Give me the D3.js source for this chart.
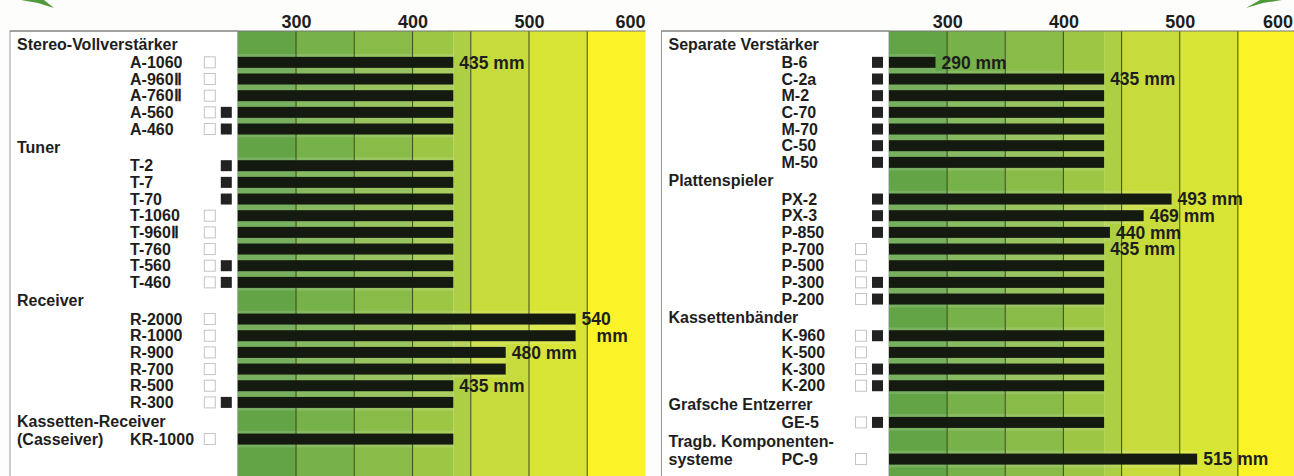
<!DOCTYPE html>
<html>
<head>
<meta charset="utf-8">
<script src="https://cdn.jsdelivr.net/npm/d3@7"></script>
<style>
  html, body { margin: 0; padding: 0; background: #fdfdfb; }
  svg { display: block; }
  text { font-family: "Liberation Sans", Arial, Helvetica, sans-serif; font-weight: bold; fill: #1e1e1e; }
</style>
</head>
<body>
<svg id="chart" width="1294" height="476"></svg>
<script>
// ---------------- DATA ----------------
const tickValues = [300, 400, 500, 600];
const gridValues = [300, 350, 400, 450, 500, 550];
const bandEdges = [250, 300, 350, 400, 435, 450, 500, 550, 600];

// Left panel
const leftGroups = ["Stereo-Vollverstärker", "Tuner", "Receiver", "Kassetten-Receiver"];
const leftGroupSub = ["", "", "", "(Casseiver)"];
const leftModels = ["A-1060", "A-960Ⅱ", "A-760Ⅱ", "A-560", "A-460",
  "T-2", "T-7", "T-70", "T-1060", "T-960Ⅱ", "T-760", "T-560", "T-460",
  "R-2000", "R-1000", "R-900", "R-700", "R-500", "R-300",
  "KR-1000"];
const leftGroupOf = [0,0,0,0,0, 1,1,1,1,1,1,1,1, 2,2,2,2,2,2, 3];
const leftDepth = [435,435,435,435,435, 435,435,435,435,435,435,435,435, 540,540,480,480,435,435, 435];
const leftSilver = [1,1,1,1,1, 0,0,0,1,1,1,1,1, 1,1,1,1,1,1, 1];
const leftBlack  = [0,0,0,1,1, 1,1,1,0,0,0,1,1, 0,0,0,0,0,1, 0];
const leftValueText = ["435 mm","","","","", "","","","","","","","", "540","mm","480 mm","","435 mm","", ""];

// Right panel
const rightGroups = ["Separate Verstärker", "Plattenspieler", "Kassettenbänder", "Grafsche Entzerrer", "Tragb. Komponenten-"];
const rightGroupSub = ["", "", "", "", "systeme"];
const rightModels = ["B-6", "C-2a", "M-2", "C-70", "M-70", "C-50", "M-50",
  "PX-2", "PX-3", "P-850", "P-700", "P-500", "P-300", "P-200",
  "K-960", "K-500", "K-300", "K-200",
  "GE-5",
  "PC-9"];
const rightGroupOf = [0,0,0,0,0,0,0, 1,1,1,1,1,1,1, 2,2,2,2, 3, 4];
const rightDepth = [290,435,435,435,435,435,435, 493,469,440,435,435,435,435, 435,435,435,435, 435, 515];
const rightSilver = [0,0,0,0,0,0,0, 0,0,0,1,1,1,1, 1,1,1,1, 1, 1];
const rightBlack  = [1,1,1,1,1,1,1, 1,1,1,0,0,1,1, 1,0,1,1, 1, 0];
const rightValueText = ["290 mm","435 mm","","","","","", "493 mm","469 mm","440 mm","435 mm","","","", "","","","", "", "515 mm"];

// ---------------- STYLE ----------------
const bandColors = ["#62a446", "#76b149", "#88bb48", "#9dc645", "#accf44", "#c7dc3c", "#d9e535", "#fbf328"];

const svg = d3.select("#chart");
const W = 1294, H = 476;
const plotTop = 31;

function drawPanel(cfg) {
  const g = svg.append("g");
  const x = d3.scaleLinear().domain([250, 600]).range([cfg.plotX0, cfg.plotX1]);
  const y = d3.scaleLinear().domain([0, 1]).range([plotTop + 3, plotTop + 3 + 16.67]);
  const headerUnits = 1.2;

  // layout rows
  const headers = [];
  const items = [];
  let u = 0;
  let lastGroup = -1;
  cfg.models.forEach((m, i) => {
    const gi = cfg.groupOf[i];
    let sub = "";
    if (gi !== lastGroup) {
      headers.push({ text: cfg.groups[gi], u: u + headerUnits / 2 });
      u += headerUnits;
      lastGroup = gi;
      sub = cfg.groupSub[gi];
    }
    items.push({ model: m, depth: cfg.depth[i], silver: cfg.silver[i], black: cfg.black[i],
      label: cfg.valueText[i], prevDepth: i > 0 ? cfg.depth[i - 1] : null,
      sub: sub, u: u + 0.5 });
    u += 1;
  });

  // label box
  g.append("rect")
    .attr("x", cfg.boxX).attr("y", plotTop)
    .attr("width", cfg.plotX0 - cfg.boxX).attr("height", H - plotTop + 5)
    .attr("fill", "#ffffff").attr("stroke", "#9a9a9a").attr("stroke-width", 1);

  // background bands
  g.selectAll("rect.band").data(d3.pairs(bandEdges)).join("rect")
    .attr("class", "band")
    .attr("x", d => x(d[0])).attr("width", d => x(d[1]) - x(d[0]))
    .attr("y", plotTop).attr("height", H - plotTop)
    .attr("fill", (d, i) => bandColors[i]);

  // lighter strips behind bar rows
  g.selectAll("rect.strip").data(items).join("rect")
    .attr("class", "strip")
    .attr("x", x(250)).attr("width", d => x(d.depth) - x(250))
    .attr("y", d => y(d.u - 0.5)).attr("height", y(1) - y(0))
    .attr("fill", "#ffffff").attr("opacity", 0.14);

  // grid lines
  g.selectAll("line.grid").data(gridValues).join("line")
    .attr("class", "grid")
    .attr("x1", d => x(d)).attr("x2", d => x(d))
    .attr("y1", plotTop).attr("y2", H)
    .attr("stroke", "#34420f").attr("stroke-width", 1.1).attr("opacity", 0.85);

  // top rule
  g.append("line")
    .attr("x1", cfg.boxX).attr("x2", cfg.plotX1)
    .attr("y1", plotTop).attr("y2", plotTop)
    .attr("stroke", "#777").attr("stroke-width", 1);

  // bars
  const barH = 0.66;
  g.selectAll("rect.bar").data(items).join("rect")
    .attr("class", "bar")
    .attr("x", x(250)).attr("width", d => x(d.depth) - x(250))
    .attr("y", d => y(d.u - barH / 2)).attr("height", y(barH) - y(0))
    .attr("fill", "#141a10");

  // axis
  const axis = d3.axisTop(x).tickValues(tickValues).tickSize(0).tickPadding(3);
  const ax = g.append("g").attr("transform", `translate(0,${plotTop})`).call(axis);
  ax.select(".domain").remove();
  ax.selectAll(".tick").filter(d => d === 600)
    .attr("transform", `translate(${Math.min(x(600), W - 1)},0)`);
  ax.selectAll("text")
    .style("font-family", '"Liberation Sans", Arial, sans-serif')
    .style("font-weight", "bold")
    .style("font-size", "18px")
    .attr("fill", "#2a2a2a")
    .attr("text-anchor", d => d === 600 ? "end" : "middle");

  // group headers
  g.selectAll("text.header").data(headers).join("text")
    .attr("class", "header")
    .attr("x", cfg.boxX + 7).attr("y", d => y(d.u)).attr("dy", "0.36em")
    .style("font-size", "16px")
    .text(d => d.text);

  // header continuation lines (on the first item row)
  g.selectAll("text.sub").data(items.filter(d => d.sub)).join("text")
    .attr("class", "sub")
    .attr("x", cfg.boxX + 7).attr("y", d => y(d.u)).attr("dy", "0.36em")
    .style("font-size", "16px")
    .text(d => d.sub);

  // model labels
  g.selectAll("text.model").data(items).join("text")
    .attr("class", "model")
    .attr("x", cfg.boxX + 120).attr("y", d => y(d.u)).attr("dy", "0.36em")
    .style("font-size", "16px")
    .text(d => d.model);

  // finish squares
  const sq = 11;
  g.selectAll("rect.silver").data(items.filter(d => d.silver)).join("rect")
    .attr("class", "silver")
    .attr("x", cfg.plotX0 - 33.5).attr("y", d => y(d.u) - sq / 2)
    .attr("width", sq).attr("height", sq)
    .attr("fill", "#ffffff").attr("stroke", "#c4c4c4").attr("stroke-width", 1);
  g.selectAll("rect.black").data(items.filter(d => d.black)).join("rect")
    .attr("class", "black")
    .attr("x", cfg.plotX0 - 17).attr("y", d => y(d.u) - sq / 2)
    .attr("width", sq).attr("height", sq)
    .attr("fill", "#222222");

  // value labels
  g.selectAll("text.val").data(items.filter(d => d.label)).join("text")
    .attr("class", "val")
    .attr("x", d => d.label === "mm" ? x(d.prevDepth) + 21 : x(d.depth) + 6)
    .attr("y", d => y(d.u)).attr("dy", "0.36em")
    .style("font-size", "17.5px")
    .text(d => d.label);
}

drawPanel({
  models: leftModels, groupOf: leftGroupOf, groups: leftGroups, groupSub: leftGroupSub,
  depth: leftDepth, silver: leftSilver, black: leftBlack, valueText: leftValueText,
  boxX: 10, plotX0: 237.8, plotX1: 645.5
});
drawPanel({
  models: rightModels, groupOf: rightGroupOf, groups: rightGroups, groupSub: rightGroupSub,
  depth: rightDepth, silver: rightSilver, black: rightBlack, valueText: rightValueText,
  boxX: 661.5, plotX0: 889, plotX1: 1296
});

// decorative green arrow tips in the top corners
const tips = [
  [[21, 0], [44, 0], [54, 8], [38, 3]],
  [[1282, 0], [1260, 0], [1246, 8], [1263, 3]]
];
svg.selectAll("path.tip").data(tips).join("path")
  .attr("class", "tip")
  .attr("d", d => d3.line()(d) + "Z")
  .attr("fill", "#4f9a3a");
</script>
</body>
</html>
